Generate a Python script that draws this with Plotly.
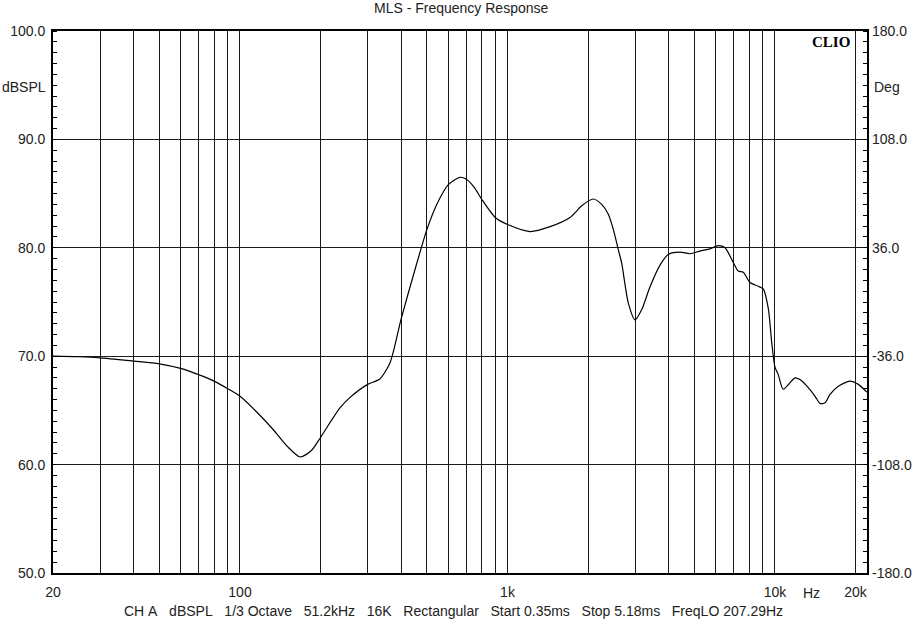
import numpy as np
import plotly.graph_objects as go

# ---- data ----
freq_hz = [20, 25, 30, 40, 50, 60, 70, 80, 90, 100, 115, 133, 150, 168, 185, 200,
           236, 258, 300, 333, 364, 400, 444, 500, 544, 600, 664, 700, 750, 800,
           900, 1000, 1214, 1442, 1713, 1900, 2093, 2250, 2382, 2487, 2597, 2672,
           2830, 3000, 3176, 3411, 3717, 4000, 4416, 4812, 5244, 5716, 6140, 6504,
           7000, 7294, 7614, 8066, 8660, 9040, 9441, 9721, 10000, 10288, 10740,
           11880, 12400, 13320, 14120, 14740, 15380, 16060, 17250, 19070, 20490, 22020]
spl_db = [70.0, 69.95, 69.85, 69.55, 69.3, 68.87, 68.3, 67.7, 67.0, 66.3, 64.9, 63.24,
          61.7, 60.7, 61.3, 62.5, 65.2, 66.2, 67.4, 67.9, 69.4, 73.4, 77.4, 81.7, 84.0,
          85.8, 86.5, 86.35, 85.6, 84.5, 82.8, 82.15, 81.5, 81.95, 82.8, 83.9, 84.5,
          84.0, 83.1, 81.7, 79.8, 78.6, 74.9, 73.35, 74.3, 76.4, 78.4, 79.4, 79.6,
          79.45, 79.7, 79.9, 80.2, 80.0, 78.6, 77.85, 77.75, 76.8, 76.45, 76.2, 74.4,
          71.3, 69.0, 68.3, 66.95, 68.0, 67.85, 67.1, 66.3, 65.64, 65.7, 66.47, 67.23,
          67.7, 67.4, 66.7]

grid_freqs = [20, 30, 40, 50, 60, 70, 80, 90, 100, 200, 300, 400, 500, 600, 700, 800,
              900, 1000, 2000, 3000, 4000, 5000, 6000, 7000, 8000, 9000, 10000, 20000]
x_labels = {20: "20", 100: "100", 1000: "1k", 10000: "10k", 20000: "20k"}
db_ticks = [50, 60, 70, 80, 90, 100]
db_labels = ["50.0", "60.0", "70.0", "80.0", "90.0", "100.0"]
deg_ticks = [-180, -108, -36, 36, 108, 180]
deg_labels = ["-180.0", "-108.0", "-36.0", "36.0", "108.0", "180.0"]

title_text = "MLS - Frequency Response"
footer_text = "CH A   dBSPL   1/3 Octave   51.2kHz   16K   Rectangular   Start 0.35ms   Stop 5.18ms   FreqLO 207.29Hz"

FONT = "Liberation Sans, Arial, sans-serif"
TXT = "#222222"
FS = 14

fig = go.Figure()
fig.add_trace(go.Scatter(x=freq_hz, y=spl_db, mode="lines",
                         line=dict(color="black", width=1.2, shape="spline", smoothing=0.7),
                         showlegend=False, hoverinfo="skip"))
# invisible trace for right axis
fig.add_trace(go.Scatter(x=[20], y=[0], yaxis="y2", mode="markers",
                         marker=dict(opacity=0), showlegend=False, hoverinfo="skip"))

fig.update_layout(
    width=920, height=625,
    margin=dict(l=53, r=53, t=31, b=52, autoexpand=False),
    paper_bgcolor="white", plot_bgcolor="white",
    font=dict(family=FONT, size=FS, color=TXT),
    xaxis=dict(type="log", range=[np.log10(20), np.log10(22080)],
               tickmode="array", tickvals=grid_freqs,
               ticktext=[x_labels.get(f, "") for f in grid_freqs],
               showgrid=True, gridcolor="#1a1a1a", gridwidth=1,
               showline=True, linecolor="black", linewidth=2, mirror=True,
               ticks="", ticklabelstandoff=5, zeroline=False, automargin=False,
               tickfont=dict(family=FONT, size=FS, color=TXT)),
    yaxis=dict(range=[50, 100], tickmode="array", tickvals=db_ticks, ticktext=db_labels,
               showgrid=True, gridcolor="#1a1a1a", gridwidth=1,
               showline=True, linecolor="black", linewidth=2, mirror=True,
               ticks="", zeroline=False, ticklabelstandoff=3, automargin=False,
               minor=dict(ticks="inside", dtick=1, tick0=50, ticklen=4,
                          tickcolor="black", tickwidth=1, showgrid=False),
               tickfont=dict(family=FONT, size=FS, color=TXT)),
    yaxis2=dict(range=[-180, 180], overlaying="y", side="right",
                tickmode="array", tickvals=deg_ticks, ticktext=deg_labels,
                showgrid=False, zeroline=False, showline=False, ticks="",
                ticklabelstandoff=4, automargin=False,
                minor=dict(ticks="inside", dtick=7.2, tick0=-180, ticklen=4,
                           tickcolor="black", tickwidth=1, showgrid=False),
                tickfont=dict(family=FONT, size=FS, color=TXT)),
)

annos = [
    dict(text=title_text, xref="paper", yref="paper", x=(461 - 53) / 814, y=1,
         yshift=23, xanchor="center", yanchor="middle", showarrow=False,
         font=dict(size=FS, color=TXT)),
    dict(text="dBSPL", xref="paper", yref="paper", x=0, xshift=-5,
         y=(573 - 87) / 542, xanchor="right", yanchor="middle", showarrow=False,
         font=dict(size=FS, color=TXT)),
    dict(text="Deg", xref="paper", yref="paper", x=1, xshift=5,
         y=(573 - 87) / 542, xanchor="left", yanchor="middle", showarrow=False,
         font=dict(size=FS, color=TXT)),
    dict(text="<b>CLIO</b>", xref="paper", yref="paper", x=(852 - 53) / 814,
         y=(573 - 42) / 542, xanchor="right", yanchor="middle", showarrow=False,
         font=dict(family="Liberation Serif, DejaVu Serif, serif", size=15, color="black")),
    dict(text="Hz", xref="x", yref="paper", x=np.log10(13650), y=0, yshift=-20,
         xanchor="center", yanchor="middle", showarrow=False,
         font=dict(size=FS, color=TXT)),
    dict(text=footer_text.replace(" ", "\u00a0"), xref="paper", yref="paper",
         x=(453 - 53) / 814, y=0, yshift=-38, xanchor="center", yanchor="middle",
         showarrow=False, font=dict(size=FS, color=TXT)),
]
fig.update_layout(annotations=annos)

# remove the browser's default 8px body margin so the figure fills the window exactly
fig.write_html("out.html",
               config={"displayModeBar": False},
               post_script="document.body.style.margin='0px';document.body.style.overflow='hidden';")
